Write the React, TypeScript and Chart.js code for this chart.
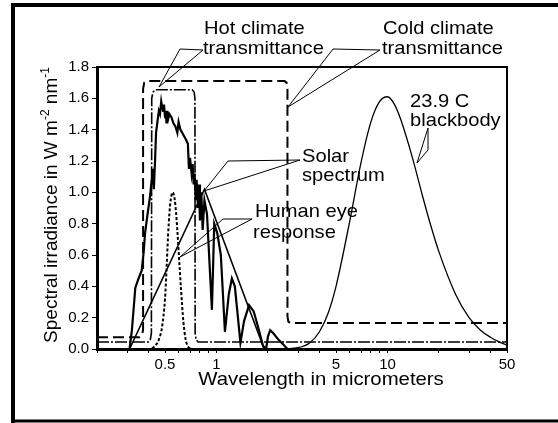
import React, { useEffect, useRef } from 'react';
import { Chart, registerables } from 'chart.js';

Chart.register(...registerables);

const FONT = '"Liberation Sans", Arial, Helvetica, sans-serif';

// ---- data (wavelength in micrometers, value in W m-2 nm-1 scale) ----
const solarWavelength = [
  0.31, 0.32, 0.33, 0.335, 0.35, 0.365, 0.375, 0.382, 0.395, 0.408, 0.418, 0.425, 0.43, 0.437,
  0.443, 0.45, 0.46, 0.467, 0.475, 0.48, 0.487, 0.493, 0.5, 0.505, 0.51, 0.515, 0.522, 0.53,
  0.545, 0.56, 0.575, 0.59, 0.6, 0.615, 0.63, 0.66, 0.68, 0.69, 0.7, 0.715, 0.725, 0.735,
  0.745, 0.755, 0.765, 0.78, 0.79, 0.8, 0.815, 0.83, 0.85, 0.88, 0.94, 0.97, 1.01, 1.06,
  1.12, 1.18, 1.23, 1.28, 1.38, 1.45, 1.55, 1.65, 1.75, 1.87, 1.95, 2.0, 2.06, 2.15, 2.3,
  2.45, 2.6,
];
const solarIrradiance = [
  0, 0.12, 0.3, 0.39, 0.45, 0.5, 0.62, 0.74, 0.86, 0.97, 1.08, 1.15, 1.02, 1.2,
  1.38, 1.44, 1.52, 1.5, 1.58, 1.55, 1.52, 1.56, 1.48, 1.52, 1.44, 1.52, 1.47, 1.5,
  1.48, 1.44, 1.42, 1.38, 1.45, 1.4, 1.38, 1.34, 1.31, 1.15, 1.22, 1.12, 1.18, 1.05,
  1.12, 0.95, 1.08, 0.9, 1.05, 0.82, 1.0, 0.76, 0.95, 0.86, 0.25, 0.8, 0.74, 0.6,
  0.11, 0.35, 0.45, 0.4, 0.04, 0.18, 0.28, 0.24, 0.14, 0.02, 0.0, 0.08, 0.12, 0.1, 0.06,
  0.03, 0.0,
];
const envelopeWavelength = [0.31, 0.85, 1.9];
const envelopeIrradiance = [0, 1.02, 0];

const hotWavelength = [0.2, 0.4, 0.41, 0.416, 0.418, 0.425, 0.44, 0.72, 0.74, 0.748, 0.75, 0.76, 0.78, 50];
const hotTransmittance = [0.045, 0.045, 0.06, 0.1, 1.6, 1.64, 1.655, 1.655, 1.64, 1.6, 0.1, 0.06, 0.045, 0.045];

const coldWavelength = [0.2, 0.355, 0.365, 0.372, 0.372, 0.378, 0.39, 2.5, 2.57, 2.6, 2.6, 2.63, 2.7, 50];
const coldTransmittance = [0.075, 0.075, 0.085, 0.12, 1.66, 1.7, 1.71, 1.71, 1.7, 1.66, 0.21, 0.175, 0.166, 0.166];

const eyeWavelength = [
  0.42, 0.44, 0.46, 0.48, 0.5, 0.51, 0.52, 0.53, 0.54, 0.555, 0.57, 0.58, 0.59, 0.6, 0.61,
  0.62, 0.64, 0.66, 0.68, 0.7,
];
const eyeResponse = [
  0.004, 0.023, 0.06, 0.139, 0.323, 0.503, 0.71, 0.862, 0.954, 1.0, 0.952, 0.87, 0.757, 0.631,
  0.503, 0.381, 0.175, 0.061, 0.017, 0.004,
];

const bodyWavelength = [
  2.5, 3, 3.5, 4, 4.5, 5, 6, 7, 8, 9, 10, 11, 12, 14, 16, 18, 20, 25, 30, 35, 40, 45, 50,
];
const bodyIrradiance = [
  0.001, 0.008, 0.038, 0.11, 0.23, 0.4, 0.81, 1.19, 1.45, 1.58, 1.61, 1.56, 1.46, 1.22, 0.98,
  0.78, 0.62, 0.35, 0.2, 0.12, 0.075, 0.045, 0.025,
];

const xTickValues = [0.2, 0.3, 0.4, 0.5, 0.6, 0.7, 0.8, 0.9, 1, 2, 3, 4, 5, 6, 7, 8, 9, 10, 20, 30, 40, 50];
const xTickLabels = ['0.5', '1', '5', '10', '50'];

const zip = (xs: number[], ys: number[]) => xs.map((x, i) => ({ x, y: ys[i] }));

function sText(ctx: CanvasRenderingContext2D, text: string, x: number, y: number, size = 19, sx = 1.06) {
  ctx.save();
  ctx.font = `${size}px ${FONT}`;
  ctx.fillStyle = '#000';
  ctx.textBaseline = 'alphabetic';
  ctx.textAlign = 'left';
  ctx.translate(x, y);
  ctx.scale(sx, 1);
  ctx.fillText(text, 0, 0);
  ctx.restore();
}

function seg(ctx: CanvasRenderingContext2D, pts: number[][]) {
  ctx.beginPath();
  ctx.moveTo(pts[0][0], pts[0][1]);
  for (let i = 1; i < pts.length; i++) ctx.lineTo(pts[i][0], pts[i][1]);
  ctx.stroke();
}

const decor = {
  id: 'decor',
  afterDraw(chart: any) {
    const ctx: CanvasRenderingContext2D = chart.ctx;
    const a = chart.chartArea;
    ctx.save();
    ctx.strokeStyle = '#000';
    // plot frame top & right
    ctx.lineWidth = 2;
    seg(ctx, [[a.left, a.top], [a.right, a.top], [a.right, a.bottom]]);
    // outer box
    ctx.lineWidth = 4;
    seg(ctx, [[13, 423], [13, 5], [560, 5]]);
    ctx.lineWidth = 3;
    seg(ctx, [[11, 421], [560, 421]]);

    // annotations
    sText(ctx, 'Hot climate', 204, 33.5);
    sText(ctx, 'transmittance', 203, 53.5);
    sText(ctx, 'Cold climate', 383, 33.5);
    sText(ctx, 'transmittance', 382, 53.5);
    sText(ctx, '23.9 C', 410, 106.5);
    sText(ctx, 'blackbody', 410, 126);
    sText(ctx, 'Solar', 302, 161.5);
    sText(ctx, 'spectrum', 302, 180.5);
    sText(ctx, 'Human eye', 255, 217);
    sText(ctx, 'response', 253, 238);

    ctx.lineWidth = 1;
    const leaders: number[][][] = [
      [[180, 49], [203, 50]], [[180, 49], [159, 87]], [[203, 50], [159, 87]],
      [[333, 49], [380, 50]], [[333, 49], [288, 107]], [[380, 50], [288, 107]],
      [[228, 161], [300, 160]], [[228, 161], [204, 191]], [[300, 160], [204, 191]],
      [[223, 219], [252, 219]], [[223, 219], [180, 257]], [[252, 219], [180, 257]],
      [[428, 128], [428, 150]], [[428, 128], [417, 163]], [[428, 150], [417, 163]],
    ];
    leaders.forEach((l) => seg(ctx, l));

    // y-axis title with superscripts
    ctx.save();
    ctx.translate(57, 205);
    ctx.rotate(-Math.PI / 2);
    ctx.fillStyle = '#000';
    ctx.textBaseline = 'alphabetic';
    const parts: [string, boolean][] = [
      ['Spectral irradiance in W m', false],
      ['-2', true],
      [' nm', false],
      ['-1', true],
    ];
    const widthOf = (p: [string, boolean]) => {
      ctx.font = p[1] ? `12px ${FONT}` : `19px ${FONT}`;
      return ctx.measureText(p[0]).width;
    };
    const total = parts.reduce((s, p) => s + widthOf(p), 0);
    let cx = -total / 2;
    parts.forEach((p) => {
      const w = widthOf(p);
      ctx.fillText(p[0], cx, p[1] ? -8 : 0);
      cx += w;
    });
    ctx.restore();

    // x-axis title
    ctx.save();
    ctx.font = `19px ${FONT}`;
    const xt = 'Wavelength in micrometers';
    const xw = ctx.measureText(xt).width * 1.07;
    ctx.restore();
    sText(ctx, xt, 321 - xw / 2, 385, 19, 1.07);

    ctx.restore();
  },
};

export default function App() {
  const ref = useRef<HTMLCanvasElement | null>(null);
  useEffect(() => {
    if (!ref.current) return;
    Chart.defaults.font.family = FONT;
    Chart.defaults.color = '#000';
    const chart = new Chart(ref.current, {
      type: 'line',
      data: {
        datasets: [
          {
            data: zip(coldWavelength, coldTransmittance),
            borderColor: '#000', borderWidth: 2, borderDash: [11, 5], pointRadius: 0, tension: 0,
          },
          {
            data: zip(hotWavelength, hotTransmittance),
            borderColor: '#000', borderWidth: 1.6, borderDash: [12, 2, 2, 2], pointRadius: 0, tension: 0,
          },
          {
            data: zip(eyeWavelength, eyeResponse),
            borderColor: '#000', borderWidth: 2, borderDash: [3, 2], pointRadius: 0,
            cubicInterpolationMode: 'monotone',
          },
          {
            data: zip(bodyWavelength, bodyIrradiance),
            borderColor: '#000', borderWidth: 1.3, pointRadius: 0, cubicInterpolationMode: 'monotone',
          },
          {
            data: zip(envelopeWavelength, envelopeIrradiance),
            borderColor: '#000', borderWidth: 1.6, pointRadius: 0, tension: 0,
          },
          {
            data: zip(solarWavelength, solarIrradiance),
            borderColor: '#000', borderWidth: 2.2, pointRadius: 0, tension: 0,
          },
        ] as any,
      },
      options: {
        responsive: false,
        devicePixelRatio: 1,
        animation: false,
        parsing: false as any,
        layout: { padding: { left: 0, top: 67, right: 51, bottom: 0 } },
        plugins: { legend: { display: false }, tooltip: { enabled: false } },
        scales: {
          x: {
            type: 'logarithmic',
            min: 0.2,
            max: 50,
            afterFit: (s: any) => { s.height = 74; },
            afterBuildTicks: (s: any) => { s.ticks = xTickValues.map((v) => ({ value: v })); },
            ticks: {
              autoSkip: false,
              maxRotation: 0,
              padding: 3,
              font: { size: 15, family: FONT },
              color: '#000',
              callback: (v: any) => {
                const lbl = String(+Number(v).toPrecision(3));
                return xTickLabels.includes(lbl) ? lbl : '';
              },
            },
            grid: { drawOnChartArea: false, drawTicks: true, tickLength: 4, color: '#000' },
            border: { display: true, width: 3, color: '#000' },
          },
          y: {
            type: 'linear',
            min: 0,
            max: 1.8,
            afterFit: (s: any) => { s.width = 97; },
            ticks: {
              stepSize: 0.2,
              padding: 3,
              font: { size: 15, family: FONT },
              color: '#000',
              callback: (v: any) => Number(v).toFixed(1),
            },
            grid: { drawOnChartArea: false, drawTicks: true, tickLength: 5, color: '#000' },
            border: { display: true, width: 3, color: '#000' },
          },
        },
      } as any,
      plugins: [decor],
    });
    return () => chart.destroy();
  }, []);

  return (
    <div style={{ position: 'fixed', left: 0, top: 0, width: 558, height: 423, background: '#fff' }}>
      <canvas ref={ref} width={558} height={423} style={{ display: 'block', width: 558, height: 423 }} />
    </div>
  );
}
